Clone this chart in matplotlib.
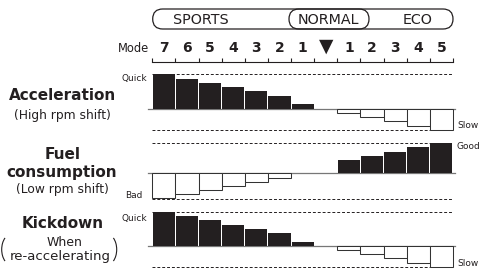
import matplotlib.pyplot as plt
from matplotlib.patches import FancyBboxPatch, Arc

plt.rcParams['font.family'] = ['DejaVu Sans']

# mode scale, left to right
modes = ['7', '6', '5', '4', '3', '2', '1', '▼', '1', '2', '3', '4', '5']
groups = ['SPORTS', 'NORMAL', 'ECO']

# bar levels per mode (+ = up / filled, - = down / hollow)
acceleration = [35, 30, 26, 22.3, 18, 13.3, 5.3, 0, -4.3, -8.3, -12.3, -17, -21]
fuel = [-25.3, -21.3, -17, -12.7, -8.7, -4.7, 0, 0, 12.7, 16.7, 20.7, 25.7, 30]
kickdown = [34, 30.3, 26, 21.3, 17, 13, 4, 0, -4, -8.3, -12.3, -16.7, -21]

# panel layout (pixel coords): values, baseline, top ref, bottom ref
panels = [
    (acceleration, 109, 35, 21),
    (fuel, 173, 30.3, 25.5),
    (kickdown, 246, 34, 21.3),
]

dark = '#231f20'
fig = plt.figure(figsize=(4.81, 2.72), dpi=100)
ax = fig.add_axes([0, 0, 1, 1])
ax.set_xlim(0, 481)
ax.set_ylim(272, 0)
ax.axis('off')

x0, x1 = 152.3, 453.0
cw = (x1 - x0) / len(modes)
centers = [x0 + cw * (i + 0.5) for i in range(len(modes))]
edges = [x0 + cw * i for i in range(len(modes) + 1)]

# header pill
ax.add_patch(FancyBboxPatch((152.7, 9), 300.3, 20, boxstyle='round,pad=0,rounding_size=10',
                            fc='none', ec=dark, lw=0.9))
ax.add_patch(FancyBboxPatch((289, 9), 80, 20, boxstyle='round,pad=0,rounding_size=10',
                            fc='none', ec=dark, lw=0.9))
for name, xc in zip(groups, [201, 328.5, 417.5]):
    ax.text(xc, 19.5, name, ha='center', va='center', fontsize=10.3, color=dark)

# mode row + ruler
ax.text(149, 51.5, 'Mode', ha='right', va='baseline', fontsize=8.3, color=dark)
for xc, m in zip(centers, modes):
    if m == '▼':
        ax.text(xc, 51.5, m, ha='center', va='baseline', fontsize=13.5, color=dark)
    else:
        ax.text(xc, 51.5, m, ha='center', va='baseline', fontsize=10, fontweight='bold', color=dark)
ax.plot([x0, x1], [62, 62], color=dark, lw=0.8)
ax.vlines(edges, 58, 62, color=dark, lw=0.8)

# bars
for vals, base, top, bot in panels:
    ax.plot([x0, x1], [base - top] * 2, color=dark, lw=0.7, ls=(0, (3, 2)), zorder=1)
    ax.plot([x0, x1], [base + bot] * 2, color=dark, lw=0.7, ls=(0, (3, 2)), zorder=1)
    ax.plot([148, 455], [base, base], color='#777777', lw=0.9, zorder=2)
    up_x = [c for c, v in zip(centers, vals) if v > 0]
    up_h = [-v for v in vals if v > 0]
    dn_x = [c for c, v in zip(centers, vals) if v < 0]
    dn_h = [-v for v in vals if v < 0]
    ax.bar(up_x, up_h, bottom=base, width=cw - 1, color=dark, zorder=3)
    ax.bar(dn_x, dn_h, bottom=base, width=cw, facecolor='white', edgecolor='#333333',
           lw=0.75, zorder=3)

# side labels
ax.text(147, 81, 'Quick', ha='right', va='baseline', fontsize=6.5, color=dark)
ax.text(457, 126, 'Slow', ha='left', va='center', fontsize=6.5, color=dark)
ax.text(457, 146.5, 'Good', ha='left', va='center', fontsize=6.5, color=dark)
ax.text(143, 197.5, 'Bad', ha='right', va='baseline', fontsize=6.5, color=dark)
ax.text(147, 221, 'Quick', ha='right', va='baseline', fontsize=6.5, color=dark)
ax.text(457, 263, 'Slow', ha='left', va='center', fontsize=6.5, color=dark)

# titles
ax.text(63, 100, 'Acceleration', ha='center', va='baseline', fontsize=11, fontweight='bold', color=dark)
ax.text(62, 119.3, '(High rpm shift)', ha='center', va='baseline', fontsize=8.8, color=dark)
ax.text(63, 159, 'Fuel', ha='center', va='baseline', fontsize=11, fontweight='bold', color=dark)
ax.text(62, 177.3, 'consumption', ha='center', va='baseline', fontsize=11, fontweight='bold', color=dark)
ax.text(62.5, 193.3, '(Low rpm shift)', ha='center', va='baseline', fontsize=8.8, color=dark)
ax.text(63, 227.7, 'Kickdown', ha='center', va='baseline', fontsize=11, fontweight='bold', color=dark)
ax.text(65, 246, 'When', ha='center', va='baseline', fontsize=9, color=dark)
ax.text(60, 260, 're-accelerating', ha='center', va='baseline', fontsize=9.5, color=dark)
ax.add_patch(Arc((11.7, 249.5), 20, 31, theta1=120, theta2=240, color=dark, lw=0.8))
ax.add_patch(Arc((106.7, 249.5), 20, 31, theta1=-60, theta2=60, color=dark, lw=0.8))

fig.savefig('out.png', dpi=100)
